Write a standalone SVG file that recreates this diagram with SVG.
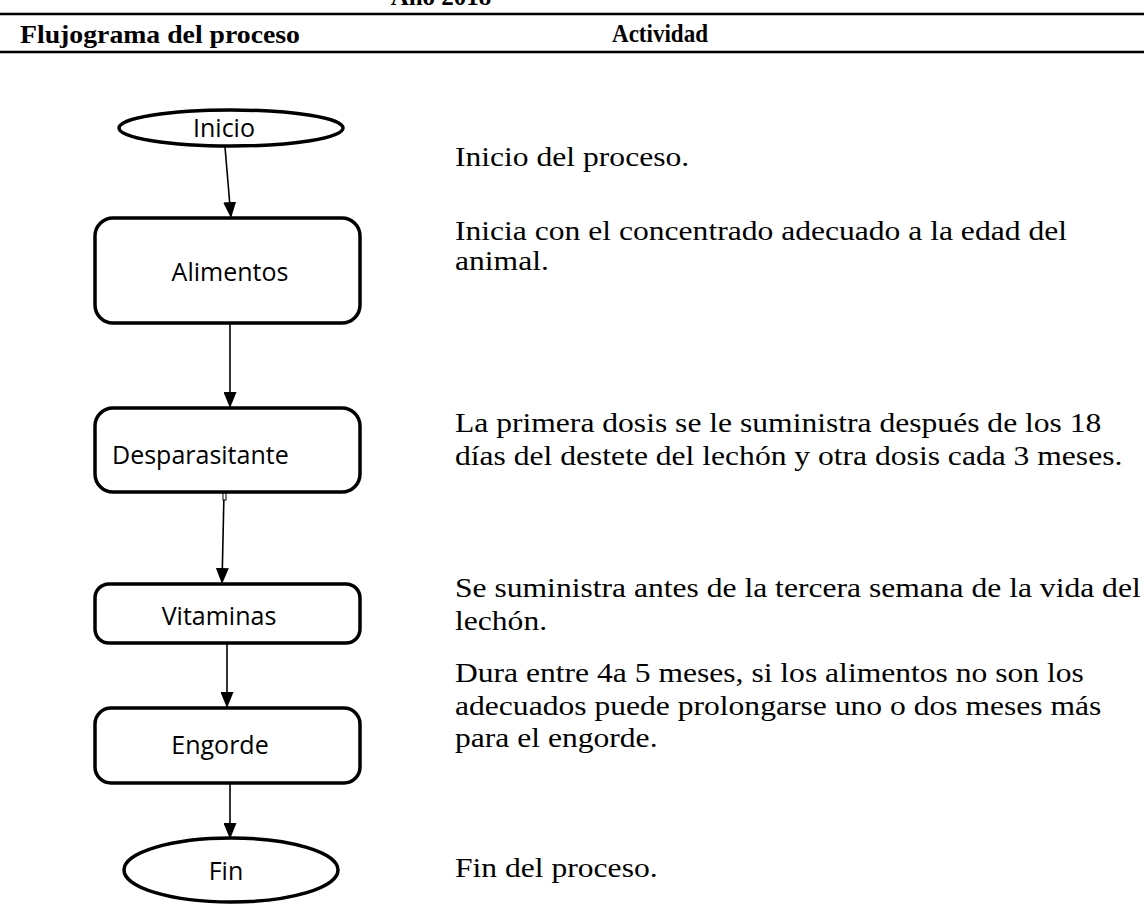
<svg xmlns="http://www.w3.org/2000/svg" width="1144" height="923" viewBox="0 0 1144 923">
<style>
.hdr{font-family:"Liberation Serif","Times New Roman",serif;font-weight:bold;font-size:25px;fill:#000}
.act{font-family:"Liberation Serif","Times New Roman",serif;font-size:27px;fill:#000}
.lbl{font-family:"Open Sans","Noto Sans",sans-serif;font-size:25px;fill:#000}
.box{fill:#fff;stroke:#000;stroke-width:3.5}
.rule{stroke:#000;stroke-width:2.5}
.conn{stroke:#000;stroke-width:1.6;fill:none}
</style>
<defs>
<marker id="ah" markerUnits="userSpaceOnUse" markerWidth="16" markerHeight="13" refX="16" refY="6.5" orient="auto" viewBox="0 0 16 13">
<path d="M0,0 L16,6.5 L0,13 Z" fill="#000"/>
</marker>
</defs>
<rect width="1144" height="923" fill="#fff"/>
<g id="header">
<text class="hdr" x="441" y="5" text-anchor="middle">Año 2018</text>
<line class="rule" x1="0" y1="14" x2="1144" y2="14"/>
<text class="hdr" x="20" y="43" textLength="280" lengthAdjust="spacingAndGlyphs">Flujograma del proceso</text>
<text class="hdr" x="612" y="42" textLength="96" lengthAdjust="spacingAndGlyphs">Actividad</text>
<line class="rule" x1="0" y1="52" x2="1144" y2="52"/>
</g>
<g id="connectors">
<line class="conn" x1="225" y1="147" x2="231" y2="218" marker-end="url(#ah)"/>
<line class="conn" x1="230" y1="323" x2="230" y2="408" marker-end="url(#ah)"/>
<line class="conn" x1="224" y1="493" x2="222" y2="584" marker-end="url(#ah)"/>
<rect x="223" y="492" width="3" height="8" fill="#fff" stroke="#000" stroke-width="1"/>
<line class="conn" x1="227" y1="643" x2="227" y2="708" marker-end="url(#ah)"/>
<line class="conn" x1="230" y1="783" x2="230" y2="839" marker-end="url(#ah)"/>
</g>
<g id="inicio">
<ellipse class="box" cx="231" cy="128" rx="112" ry="18"/>
<text class="lbl" x="224" y="137" text-anchor="middle">Inicio</text>
</g>
<g id="alimentos">
<rect class="box" x="95" y="218" width="265" height="105" rx="18"/>
<text class="lbl" x="230" y="281" text-anchor="middle">Alimentos</text>
</g>
<g id="desparasitante">
<rect class="box" x="95" y="408" width="265" height="84" rx="18"/>
<text class="lbl" x="112" y="464">Desparasitante</text>
</g>
<g id="vitaminas">
<rect class="box" x="95" y="584" width="265" height="59" rx="14"/>
<text class="lbl" x="219" y="625" text-anchor="middle">Vitaminas</text>
</g>
<g id="engorde">
<rect class="box" x="95" y="708" width="265" height="75" rx="16"/>
<text class="lbl" x="220" y="754" text-anchor="middle">Engorde</text>
</g>
<g id="fin">
<ellipse class="box" cx="231" cy="870" rx="107" ry="32"/>
<text class="lbl" x="226" y="880" text-anchor="middle">Fin</text>
</g>
<g id="activities" transform="translate(455 0) scale(1.17 1)">
<text class="act" x="0" y="166">Inicio del proceso.</text>
<text class="act" x="0" y="240">Inicia con el concentrado adecuado a la edad del</text>
<text class="act" x="0" y="270">animal.</text>
<text class="act" x="0" y="432">La primera dosis se le suministra después de los 18</text>
<text class="act" x="0" y="465">días del destete del lechón y otra dosis cada 3 meses.</text>
<text class="act" x="0" y="597">Se suministra antes de la tercera semana de la vida del</text>
<text class="act" x="0" y="630">lechón.</text>
<text class="act" x="0" y="682">Dura entre 4a 5 meses, si los alimentos no son los</text>
<text class="act" x="0" y="715">adecuados puede prolongarse uno o dos meses más</text>
<text class="act" x="0" y="747">para el engorde.</text>
<text class="act" x="0" y="877">Fin del proceso.</text>
</g>
</svg>
